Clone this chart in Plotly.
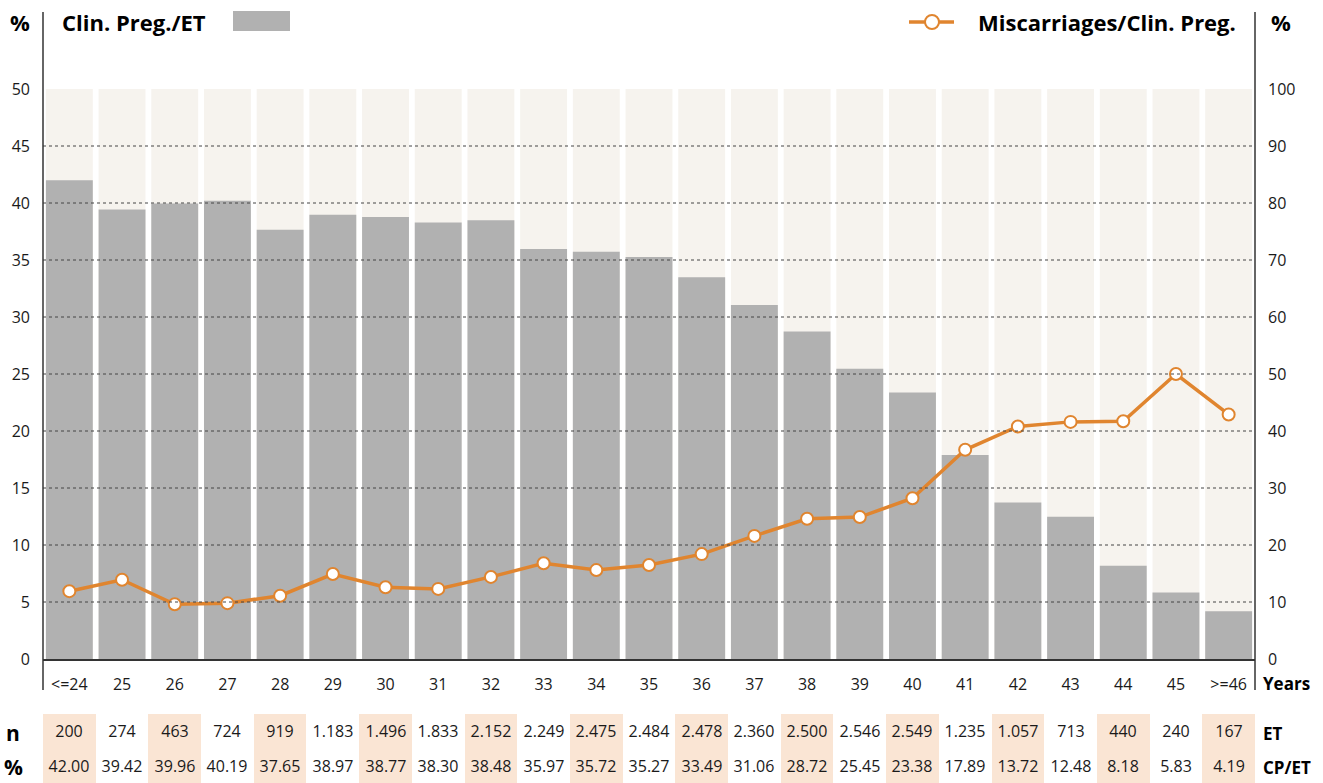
import plotly.graph_objects as go

ages = ["<=24", "25", "26", "27", "28", "29", "30", "31", "32", "33", "34", "35",
        "36", "37", "38", "39", "40", "41", "42", "43", "44", "45", ">=46"]
et_n = ["200", "274", "463", "724", "919", "1.183", "1.496", "1.833", "2.152", "2.249",
        "2.475", "2.484", "2.478", "2.360", "2.500", "2.546", "2.549", "1.235", "1.057",
        "713", "440", "240", "167"]
cp_et = [42.00, 39.42, 39.96, 40.19, 37.65, 38.97, 38.77, 38.30, 38.48, 35.97, 35.72,
         35.27, 33.49, 31.06, 28.72, 25.45, 23.38, 17.89, 13.72, 12.48, 8.18, 5.83, 4.19]
misc_cp = [11.9, 13.9, 9.6, 9.8, 11.1, 14.9, 12.6, 12.3, 14.4, 16.8, 15.6, 16.5,
           18.4, 21.6, 24.6, 24.9, 28.2, 36.7, 40.8, 41.6, 41.7, 50.0, 42.9]
bg_max = 50

FONT = "Open Sans"
GRAY = "#B1B1B1"
BEIGE = "#F6F3EE"
ORANGE = "#E0852F"
PEACH = "#FAE5D4"
TXT = "#1a1a1a"

W, H = 1323, 783
L, R, T, B = 43, 1255, 89, 0
ph = H - T - B
pw = R - L


def py(pix):
    return (H - B - pix) / ph


def px(pix):
    return (pix - L) / pw


fig = go.Figure()

fig.add_trace(go.Bar(x=ages, y=[bg_max] * len(ages), marker=dict(color=BEIGE, line_width=0),
                     hoverinfo="skip", showlegend=False))
fig.add_trace(go.Bar(x=ages, y=cp_et, marker=dict(color=GRAY, line_width=0),
                     name="Clin. Preg./ET", showlegend=False))
fig.add_trace(go.Scatter(x=ages, y=misc_cp, yaxis="y2", mode="lines+markers",
                         line=dict(color=ORANGE, width=3.5),
                         marker=dict(size=12, color="white", line=dict(color=ORANGE, width=2)),
                         name="Miscarriages/Clin. Preg.", showlegend=False))

# table as heatmap
rows = ["%", "n"]
z = [[(i + 1) % 2 for i in range(len(ages))] for _ in rows]
texts = [[f"{v:.2f}" for v in cp_et], et_n]
fig.add_trace(go.Heatmap(x=ages, y=rows, z=z, text=texts, texttemplate="%{text}",
                         textfont=dict(family=FONT, size=16, color=TXT),
                         colorscale=[[0, "white"], [1, PEACH]], showscale=False,
                         yaxis="y3", hoverinfo="skip", zmin=0, zmax=1))

dom_bottom = py(659)
fig.update_layout(
    template="none",
    width=W, height=H,
    margin=dict(l=L, r=W - R, t=T, b=B, autoexpand=False),
    paper_bgcolor="white", plot_bgcolor="white",
    barmode="overlay", bargap=0.11,
    font=dict(family=FONT, size=16, color=TXT),
    xaxis=dict(type="category", range=[-0.5, len(ages) - 0.5], showline=True, linewidth=2,
               linecolor="#333", showgrid=False, ticks="", ticklabelstandoff=10,
               tickfont=dict(size=16), anchor="y", zeroline=False, automargin=False),
    yaxis=dict(domain=[dom_bottom, 1], range=[0, 50], dtick=5, showgrid=False,
               zeroline=False, showline=False, ticks="", ticklabelstandoff=12,
               tickfont=dict(size=16), automargin=False),
    yaxis2=dict(overlaying="y", side="right", range=[0, 100], dtick=10, showgrid=False,
                zeroline=False, showline=False, ticks="", ticklabelstandoff=12,
                tickfont=dict(size=16), automargin=False),
    yaxis3=dict(domain=[0, py(714)], showticklabels=False, showgrid=False, zeroline=False,
                showline=False, ticks="", anchor="x", fixedrange=True, automargin=False),
)

shapes = []
for v in range(5, 50, 5):
    shapes.append(dict(type="line", xref="paper", yref="y", x0=0, x1=1, y0=v, y1=v,
                       line=dict(color="#444", width=1, dash="dot"), layer="above"))
# vertical frame lines
for xv in (0, 1):
    shapes.append(dict(type="line", xref="paper", yref="paper", x0=xv, x1=xv,
                       y0=py(690), y1=py(12), line=dict(color="#333", width=1.5)))
# legend swatches
shapes.append(dict(type="rect", xref="paper", yref="paper", x0=px(233), x1=px(290),
                   y0=py(31), y1=py(11), fillcolor=GRAY, line_width=0))
shapes.append(dict(type="line", xref="paper", yref="paper", x0=px(909), x1=px(954),
                   y0=py(22), y1=py(22), line=dict(color=ORANGE, width=3.5)))
shapes.append(dict(type="circle", xref="paper", yref="paper", x0=px(925), x1=px(939),
                   y0=py(29), y1=py(15), fillcolor="white", line=dict(color=ORANGE, width=2)))
fig.update_layout(shapes=shapes)

anns = []


def ann(text, x, y, xanchor="center", size=19, bold=True):
    anns.append(dict(text=f"<b>{text}</b>" if bold else text, xref="paper", yref="paper",
                     x=px(x), y=py(y), xanchor=xanchor, yanchor="middle", showarrow=False,
                     font=dict(family=FONT, size=size, color="black")))


ann("%", 20, 22, size=22)
ann("%", 1281, 22, size=22)
ann("Clin. Preg./ET", 60, 22, "left", size=22)
ann("Miscarriages/Clin. Preg.", 1238, 22, "right", size=22)
ann("Years", 1261, 683, "left", size=17)
ann("n", 4, 733, "left", size=21)
ann("%", 2, 767, "left", size=21)
ann("ET", 1261, 733, "left", size=17)
ann("CP/ET", 1261, 767, "left", size=17)
fig.update_layout(annotations=anns)

fig.write_html("out.html", config={"displayModeBar": False},
               post_script="document.body.style.margin='0';")
